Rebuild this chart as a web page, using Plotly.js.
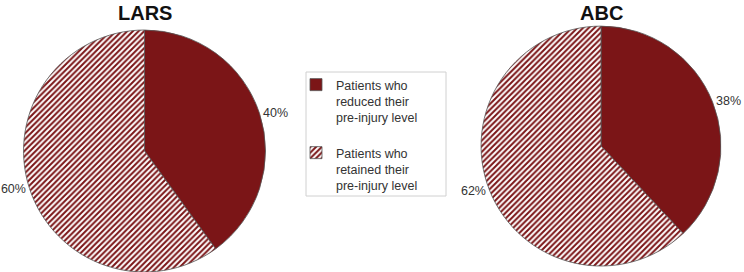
<!DOCTYPE html>
<html>
<head>
<meta charset="utf-8">
<script src="https://cdn.plot.ly/plotly-3.0.1.min.js"></script>
<style>html,body{margin:0;padding:0;background:#fff;}#chart{width:744px;height:272px;}</style>
</head>
<body>
<div id="chart"></div>
<script>
const labels = ["Patients who<br>reduced their<br>pre-injury level<br> ", "Patients who<br>retained their<br>pre-injury level"];
const titles = ["LARS", "ABC"];
const larsValues = [40, 60];
const abcValues = [38, 62];

const darkRed = "#7b1517";
const font = "Liberation Sans, Arial, sans-serif";
const common = {
  type: "pie",
  labels: labels,
  sort: false,
  direction: "clockwise",
  rotation: 0,
  textinfo: "percent",
  textposition: "outside",
  outsidetextfont: {family: font, size: 12.5, color: "#333"},
  hoverinfo: "percent",
  marker: {
    colors: [darkRed, "#ffffff"],
    line: {color: "#555", width: 0.8},
    pattern: {shape: ["", "/"], fgcolor: darkRed, bgcolor: "#ffffff", size: 4, solidity: 0.5}
  }
};

const traces = [
  Object.assign({}, common, {values: larsValues, name: titles[0], domain: {x: [0.0316, 0.3569], y: [0, 0.8897]}}),
  Object.assign({}, common, {values: abcValues, name: titles[1], domain: {x: [0.6465, 0.9691], y: [0.022, 0.904]}})
];

const layout = {
  width: 744, height: 272,
  margin: {l: 0, r: 0, t: 0, b: 0},
  paper_bgcolor: "#fff",
  showlegend: true,
  legend: {
    x: 296 / 744, y: 1 - 70 / 272, xanchor: "left", yanchor: "top",
    borderwidth: 0, bgcolor: "rgba(0,0,0,0)",
    font: {family: font, size: 12.5, color: "#333"},
    valign: "top", itemwidth: 30
  },
  shapes: [
    {type: "rect", xref: "paper", yref: "paper", x0: 306 / 744, x1: 446 / 744, y0: 1 - 196 / 272, y1: 1 - 72 / 272,
     line: {color: "#d0d0d0", width: 1}, fillcolor: "rgba(0,0,0,0)"}
  ],
  annotations: [
    {text: "<b>" + titles[0] + "</b>", x: 0.195, y: 1.0, xref: "paper", yref: "paper", xanchor: "center", yanchor: "top", showarrow: false, font: {family: font, size: 20, color: "#111"}},
    {text: "<b>" + titles[1] + "</b>", x: 0.808, y: 1.0, xref: "paper", yref: "paper", xanchor: "center", yanchor: "top", showarrow: false, font: {family: font, size: 20, color: "#111"}}
  ]
};

Plotly.newPlot("chart", traces, layout, {displayModeBar: false, staticPlot: true});
</script>
</body>
</html>
